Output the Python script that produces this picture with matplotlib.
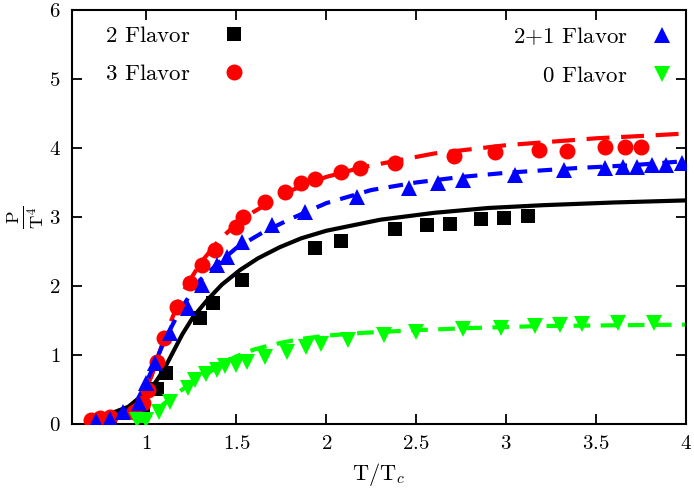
import numpy as np
import matplotlib
matplotlib.use('Agg')
import matplotlib.pyplot as plt
from matplotlib.ticker import FuncFormatter

plt.rcParams['font.family'] = 'cmr10'
plt.rcParams['mathtext.fontset'] = 'cm'
plt.rcParams['axes.formatter.use_mathtext'] = True

# 2 flavor
x2 = [0.7, 0.8, 0.98, 1.06, 1.11, 1.3, 1.37, 1.53, 1.94, 2.08, 2.38, 2.56, 2.69, 2.86, 2.99, 3.12]
y2 = [-0.02, 0.0, 0.26, 0.5, 0.74, 1.54, 1.75, 2.09, 2.55, 2.65, 2.83, 2.88, 2.9, 2.97, 2.98, 3.01]
x2_fit = [0.7, 0.8, 0.9, 0.97, 1.05, 1.1, 1.15, 1.2, 1.26, 1.34, 1.42, 1.52, 1.62, 1.74, 1.86, 2.0,
          2.3, 2.6, 2.9, 3.2, 3.6, 4.0]
y2_fit = [0.1, 0.15, 0.25, 0.4, 0.6, 0.8, 1.05, 1.3, 1.55, 1.8, 2.02, 2.23, 2.4, 2.56, 2.69, 2.8,
          2.96, 3.06, 3.13, 3.17, 3.21, 3.24]

# 3 flavor
x3 = [0.69, 0.74, 0.8, 0.93, 0.98, 1.01, 1.06, 1.1, 1.17, 1.24, 1.31, 1.38, 1.5, 1.54, 1.66, 1.77,
      1.86, 1.94, 2.08, 2.19, 2.38, 2.71, 2.94, 3.18, 3.34, 3.55, 3.66, 3.75]
y3 = [0.06, 0.09, 0.1, 0.18, 0.3, 0.49, 0.9, 1.25, 1.7, 2.04, 2.3, 2.52, 2.86, 3.0, 3.22, 3.36,
      3.49, 3.55, 3.65, 3.71, 3.78, 3.88, 3.94, 3.97, 3.96, 4.01, 4.01, 4.01]
x3_fit = [0.7, 0.8, 0.9, 0.97, 1.03, 1.1, 1.2, 1.3, 1.4, 1.5, 1.6, 1.8, 2.0, 2.2, 2.4, 2.6, 2.8,
          3.0, 3.2, 3.5, 3.8, 4.0]
y3_fit = [0.08, 0.1, 0.18, 0.35, 0.7, 1.25, 1.9, 2.33, 2.65, 2.9, 3.08, 3.38, 3.58, 3.72, 3.82,
          3.92, 3.98, 4.04, 4.08, 4.14, 4.18, 4.21]

# 2+1 flavor
x21 = [0.72, 0.8, 0.87, 0.96, 1.0, 1.05, 1.13, 1.23, 1.31, 1.39, 1.45, 1.53, 1.7, 1.88, 2.17,
       2.46, 2.62, 2.76, 3.05, 3.32, 3.55, 3.65, 3.73, 3.81, 3.89, 3.98]
y21 = [0.04, 0.07, 0.17, 0.3, 0.6, 0.88, 1.32, 1.68, 2.01, 2.3, 2.42, 2.64, 2.88, 3.07, 3.29,
       3.42, 3.49, 3.54, 3.61, 3.68, 3.71, 3.73, 3.73, 3.75, 3.75, 3.78]
x21_fit = [0.7, 0.8, 0.9, 0.95, 1.0, 1.05, 1.1, 1.15, 1.2, 1.3, 1.4, 1.5, 1.65, 1.8, 2.0, 2.25,
           2.5, 2.75, 3.0, 3.4, 3.7, 4.0]
y21_fit = [0.08, 0.1, 0.2, 0.35, 0.6, 0.9, 1.2, 1.46, 1.7, 2.09, 2.33, 2.55, 2.78, 2.97, 3.2,
           3.39, 3.5, 3.58, 3.64, 3.71, 3.75, 3.81]

# 0 flavor
x0 = [0.95, 1.0, 1.07, 1.13, 1.23, 1.27, 1.33, 1.39, 1.44, 1.5, 1.56, 1.66, 1.78, 1.89, 1.97,
      2.12, 2.32, 2.5, 2.76, 2.97, 3.16, 3.3, 3.42, 3.62, 3.82]
y0 = [0.06, 0.06, 0.17, 0.32, 0.52, 0.64, 0.72, 0.78, 0.84, 0.86, 0.9, 0.97, 1.04, 1.12, 1.16,
      1.22, 1.29, 1.33, 1.37, 1.39, 1.42, 1.43, 1.45, 1.46, 1.46]
x0_fit = [0.95, 1.0, 1.05, 1.1, 1.2, 1.3, 1.4, 1.5, 1.6, 1.7, 1.85, 2.0, 2.2, 2.5, 2.8, 3.2,
          3.6, 4.0]
y0_fit = [0.0, 0.08, 0.18, 0.3, 0.5, 0.66, 0.84, 0.98, 1.08, 1.15, 1.23, 1.28, 1.32, 1.36, 1.39,
          1.42, 1.43, 1.44]

fig = plt.figure(figsize=(6.94, 4.97), dpi=100)
ax = fig.add_axes([0.1033, 0.1469, 0.8852, 0.8331])

lw = 3.0
ms = 10.5
ax.plot(x2_fit, y2_fit, '-', color='black', lw=lw, zorder=2)
ax.plot(x3_fit, y3_fit, '-', color='red', lw=lw, dashes=(5.5, 2.8), zorder=2)
ax.plot(x21_fit, y21_fit, '-', color='blue', lw=lw, dashes=(3.5, 2.5), zorder=2)
ax.plot(x0_fit, y0_fit, '-', color='#00ff00', lw=lw, dashes=(4, 2.5), zorder=2)

p2, = ax.plot(x2, y2, 's', color='black', ms=ms, mew=0, zorder=3)
p3, = ax.plot(x3, y3, 'o', color='red', ms=ms + 1, mew=0, zorder=3)
p21, = ax.plot(x21, y21, '^', color='blue', ms=ms + 1.5, mew=0, zorder=3)
p0, = ax.plot(x0, y0, 'v', color='#00ff00', ms=ms + 1.5, mew=0, zorder=3)

ax.set_xlim(0.585, 4.0)
ax.set_ylim(0, 6)
ax.set_xticks([1, 1.5, 2, 2.5, 3, 3.5, 4])
ax.set_yticks(range(7))
fmt = FuncFormatter(lambda v, p: r'$\mathbf{%g}$' % v)
ax.xaxis.set_major_formatter(fmt)
ax.yaxis.set_major_formatter(fmt)
ax.tick_params(direction='in', length=7, width=1.3, top=True, right=True, labelsize=15, pad=8)
for s in ax.spines.values():
    s.set_linewidth(1.5)

ax.set_xlabel(r'T/T$_c$', fontsize=16, labelpad=6)
ax.set_ylabel(r'$\frac{\mathrm{P}}{\mathrm{T}^4}$', fontsize=19, labelpad=2, rotation=90)

fs = 16.5
leg1 = ax.legend([p2, p3], [r'$\mathbf{2}$ Flavor', r'$\mathbf{3}$ Flavor'], loc='upper left',
                 bbox_to_anchor=(0.02, 1.012), frameon=False, markerfirst=False, fontsize=fs,
                 handlelength=1.0, handletextpad=1.4, labelspacing=0.82)
ax.add_artist(leg1)
ax.legend([p21, p0], [r'$\mathbf{2{+}1}$ Flavor', r'$\mathbf{0}$ Flavor'], loc='upper right',
          bbox_to_anchor=(1.013, 1.012), frameon=False, markerfirst=False, fontsize=fs,
          handlelength=1.0, handletextpad=0.98, labelspacing=0.82)

fig.savefig('out.png', dpi=100)
